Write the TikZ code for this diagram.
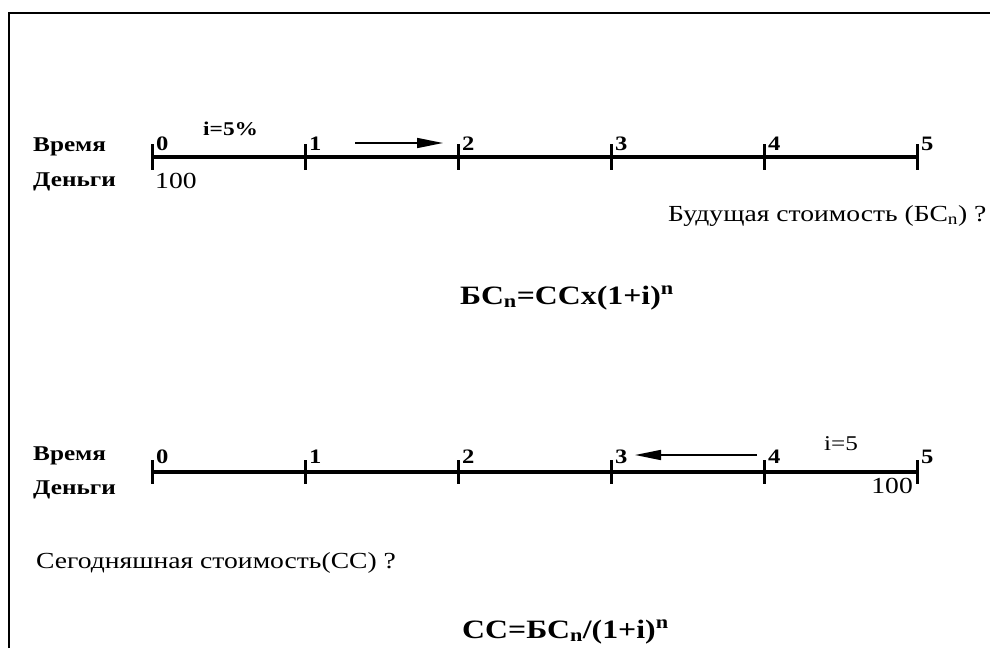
\documentclass[tikz,border=0pt]{standalone}
\usepackage{fontspec}
\setmainfont[FakeStretch=1.2]{Liberation Serif}
\usetikzlibrary{arrows.meta}
\begin{document}
\begin{tikzpicture}[x=1pt,y=-1pt,
  axisline/.style={line width=3.5pt},
  tickmark/.style={line width=3pt},
  lab/.style={inner sep=0pt, anchor=base west, font=\bfseries\fontsize{21}{21}\selectfont},
  num/.style={inner sep=0pt, anchor=base west, font=\bfseries\fontsize{20.5}{20}\selectfont},
  money/.style={inner sep=0pt, anchor=base west, font=\fontsize{23}{23}\selectfont},
  rate/.style={inner sep=0pt, anchor=base west, font=\fontsize{21}{21}\selectfont},
  txt/.style={inner sep=0pt, anchor=base west, font=\fontsize{23}{23}\selectfont},
  formula/.style={inner sep=0pt, anchor=base west, font=\bfseries\fontsize{26.5}{26}\selectfont},
  flow/.style={line width=1.6pt, -{Triangle[length=26pt,width=10pt]}}]
\useasboundingbox (0,0) rectangle (990,648);
% frame (top and left edges)
\draw[line width=2pt] (9,648) -- (9,13) -- (990,13);

% ---------- upper time line ----------
\foreach \i/\x in {0/152,1/305,2/458,3/611,4/764,5/917}{
  \coordinate (u\i) at (\x,157);
  \draw[tickmark] (\x,144) -- (\x,170);
  \node[num] (un\i) at (\x+4,150) {\i};
}
\draw[axisline] (u0) -- (u5);
\node[lab] (uvr) at (33,151) {Время};
\node[lab] (ude) at (33,186) {Деньги};
\node[money] (u100) at (155,188) {100};
\node[lab,font=\bfseries\fontsize{19.5}{19}\selectfont] (urate) at (203,135) {i=5\%};
\coordinate (uas) at (355,143);
\coordinate (uae) at (443,143);
\draw[flow] (uas) -- (uae);
\node[txt] (ubs) at (668,221) {Будущая стоимость (БС\textsubscript{n}) ?};
\node[formula] (ufo) at (460,304) {БС\textsubscript{n}=ССx(1+i)\textsuperscript{n}};

% ---------- lower time line ----------
\foreach \i/\x in {0/152,1/305,2/458,3/611,4/764,5/917}{
  \coordinate (l\i) at (\x,472);
  \draw[tickmark] (\x,460) -- (\x,484);
  \node[num] (ln\i) at (\x+4,463) {\i};
}
\draw[axisline] (l0) -- (l5);
\node[lab] (lvr) at (33,460) {Время};
\node[lab] (lde) at (33,494) {Деньги};
\node[money,anchor=base east] (l100) at (913,493) {100};
\node[rate] (lrate) at (824,450) {i=5};
\coordinate (las) at (757,455);
\coordinate (lae) at (635,455);
\draw[flow] (las) -- (lae);
\node[txt] (lss) at (36,568) {Сегодняшная стоимость(СС) ?};
\node[formula] (lfo) at (462,638) {СС=БС\textsubscript{n}/(1+i)\textsuperscript{n}};
\end{tikzpicture}
\end{document}
